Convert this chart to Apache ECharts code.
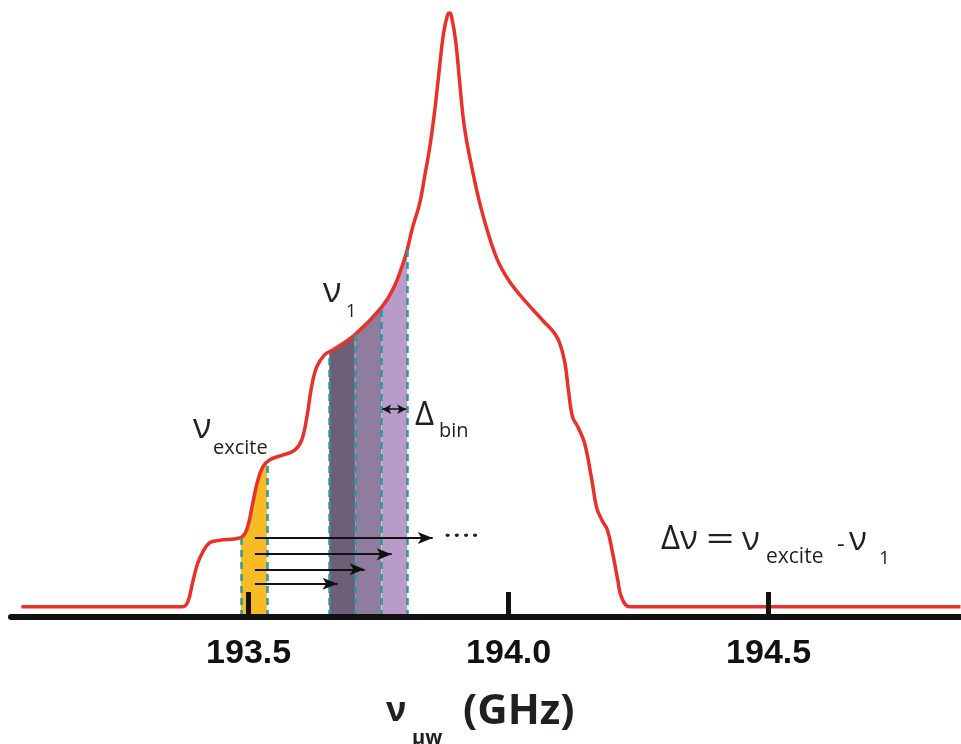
<!DOCTYPE html>
<html>
<head>
<meta charset="utf-8">
<script src="https://cdn.jsdelivr.net/npm/echarts@6/dist/echarts.min.js"></script>
<style>
html, body { margin: 0; padding: 0; background: #fff; }
#main { width: 961px; height: 744px; }
</style>
</head>
<body>
<div id="main"></div>
<script>
// spectrum: microwave frequency (GHz) vs intensity (peak = 1)
var freq = [193.063, 193.373, 193.383, 193.392, 193.402, 193.412, 193.425, 193.444, 193.483, 193.496,
  193.508, 193.517, 193.527, 193.540, 193.565, 193.588, 193.602, 193.612, 193.621, 193.631,
  193.646, 193.662, 193.704, 193.756, 193.779, 193.802, 193.815, 193.829, 193.838, 193.848,
  193.858, 193.867, 193.875, 193.883, 193.887, 193.890, 193.898, 193.906, 193.915, 193.931,
  193.950, 193.977, 194.002, 194.035, 194.069, 194.088, 194.098, 194.108, 194.115, 194.123,
  194.133, 194.146, 194.160, 194.169, 194.179, 194.190, 194.200, 194.210, 194.217, 194.233,
  194.869];
var inten = [0.017, 0.017, 0.025, 0.056, 0.089, 0.108, 0.123, 0.127, 0.131, 0.144,
  0.189, 0.224, 0.248, 0.260, 0.268, 0.276, 0.293, 0.331, 0.381, 0.414,
  0.434, 0.442, 0.467, 0.513, 0.545, 0.599, 0.644, 0.685, 0.727, 0.776,
  0.839, 0.909, 0.967, 0.998, 1.000, 0.995, 0.955, 0.884, 0.811, 0.737,
  0.667, 0.594, 0.555, 0.520, 0.488, 0.470, 0.454, 0.422, 0.376, 0.331,
  0.315, 0.288, 0.227, 0.182, 0.161, 0.144, 0.106, 0.061, 0.033, 0.017,
  0.017];
var tickValues = [193.5, 194.0, 194.5];
var exciteBin = [193.485, 193.535];
var probeBins = [193.655, 193.705, 193.755, 193.805];
var binColors = ['#6d5f78', '#8f7c9e', '#b89bc8'];
var arrowStart = 193.512;
var arrowEnds = [193.854, 193.775, 193.723, 193.671];
var arrowLevels = [0.131, 0.104, 0.079, 0.055];
var deltaBinLevel = 0.344;

var txt = '#231f20';
var curve = freq.map(function (f, i) { return [f, inten[i]]; });

function curveAt(x) {
  for (var i = 1; i < freq.length; i++) {
    if (x <= freq[i]) {
      var t = (x - freq[i - 1]) / (freq[i] - freq[i - 1]);
      return inten[i - 1] + t * (inten[i] - inten[i - 1]);
    }
  }
  return inten[inten.length - 1];
}

function slice(a, b) {
  var pts = [[a, curveAt(a)]];
  curve.forEach(function (p) { if (p[0] > a && p[0] < b) pts.push(p); });
  pts.push([b, curveAt(b)]);
  return pts;
}

function fill(a, b, color) {
  return {
    type: 'line', data: slice(a, b), symbol: 'none', silent: true, z: 1,
    lineStyle: { width: 0 }, areaStyle: { color: color, opacity: 1 }
  };
}

var series = [fill(exciteBin[0], exciteBin[1], '#f8bb24')];
for (var k = 0; k < 3; k++) series.push(fill(probeBins[k], probeBins[k + 1], binColors[k]));

var edges = exciteBin.concat(probeBins);
series.push({
  type: 'line', data: [], z: 2, silent: true,
  markLine: {
    silent: true, symbol: 'none', label: { show: false },
    lineStyle: { color: '#2a9a9a', width: 2.5, type: [7, 5] },
    data: edges.map(function (x) { return [{ coord: [x, 0] }, { coord: [x, curveAt(x)] }]; })
  }
});

var arrows = arrowEnds.map(function (e, i) {
  return [{ coord: [arrowStart, arrowLevels[i]] }, { coord: [e, arrowLevels[i]] }];
});
series.push({
  type: 'line', data: [], z: 3, silent: true,
  markLine: {
    silent: true, symbol: ['none', 'arrow'], symbolSize: [9, 15], label: { show: false },
    lineStyle: { color: '#111', width: 2, type: 'solid' },
    data: arrows
  }
});
series.push({
  type: 'line', data: [], z: 3, silent: true,
  markLine: {
    silent: true, symbol: ['arrow', 'arrow'], symbolSize: [7, 9], label: { show: false },
    lineStyle: { color: '#111', width: 1.5, type: 'solid' },
    data: [[{ coord: [probeBins[2] + 0.002, deltaBinLevel] }, { coord: [probeBins[3] - 0.002, deltaBinLevel] }]]
  }
});
series.push({
  type: 'line', data: curve, z: 4, symbol: 'none', smooth: 0.4, silent: true,
  clip: false, lineStyle: { color: '#e8312b', width: 3.5 }
});

function t(str, x, y, size, opts) {
  opts = opts || {};
  return {
    type: 'text', x: x, y: y, silent: true, z: 10,
    scaleX: opts.sx || 1,
    style: {
      text: str, fill: txt, fontSize: size,
      fontFamily: opts.family || 'Open Sans',
      fontWeight: opts.weight || 'normal',
      verticalAlign: 'middle', align: 'left'
    }
  };
}

var labels = [
  t('ν', 193, 428, 34), t('excite', 213, 448, 20),
  t('ν', 323, 292, 34), t('1', 346, 312, 18),
  t('Δ', 415, 416, 33), t('bin', 439, 431, 20),
  t('····', 443, 537, 28, { sx: 1.25 }),
  t('Δν', 661, 540, 33), t('=', 706, 541, 32, { sx: 1.55 }), t('ν', 742, 541, 33),
  t('excite', 766, 557, 21), t('-', 837, 545, 24), t('ν', 849, 541, 33), t('1', 879, 559, 19),
  t('ν', 386, 711, 34, { weight: 'bold' }), t('μw', 412, 738, 20, { weight: 'bold' }),
  t('(GHz)', 463, 712, 42, { weight: 'bold' })
];

var chart = echarts.init(document.getElementById('main'));
chart.setOption({
  animation: false,
  backgroundColor: '#fff',
  grid: { left: 11, right: 0, top: 13, bottom: 127 },
  xAxis: {
    type: 'value', min: 193.043, max: 194.870, z: 6,
    splitLine: { show: false },
    axisLine: { show: true, onZero: false, lineStyle: { color: '#111', width: 6 } },
    axisTick: { show: true, inside: true, length: 25, customValues: tickValues, lineStyle: { color: '#111', width: 5 } },
    axisLabel: {
      customValues: tickValues, margin: 20, color: '#111',
      fontFamily: 'Liberation Sans', fontWeight: 'bold', fontSize: 34,
      formatter: function (v) { return v.toFixed(1); }
    }
  },
  yAxis: { type: 'value', min: 0, max: 1, show: false, splitLine: { show: false } },
  series: series,
  graphic: labels
});
</script>
</body>
</html>
